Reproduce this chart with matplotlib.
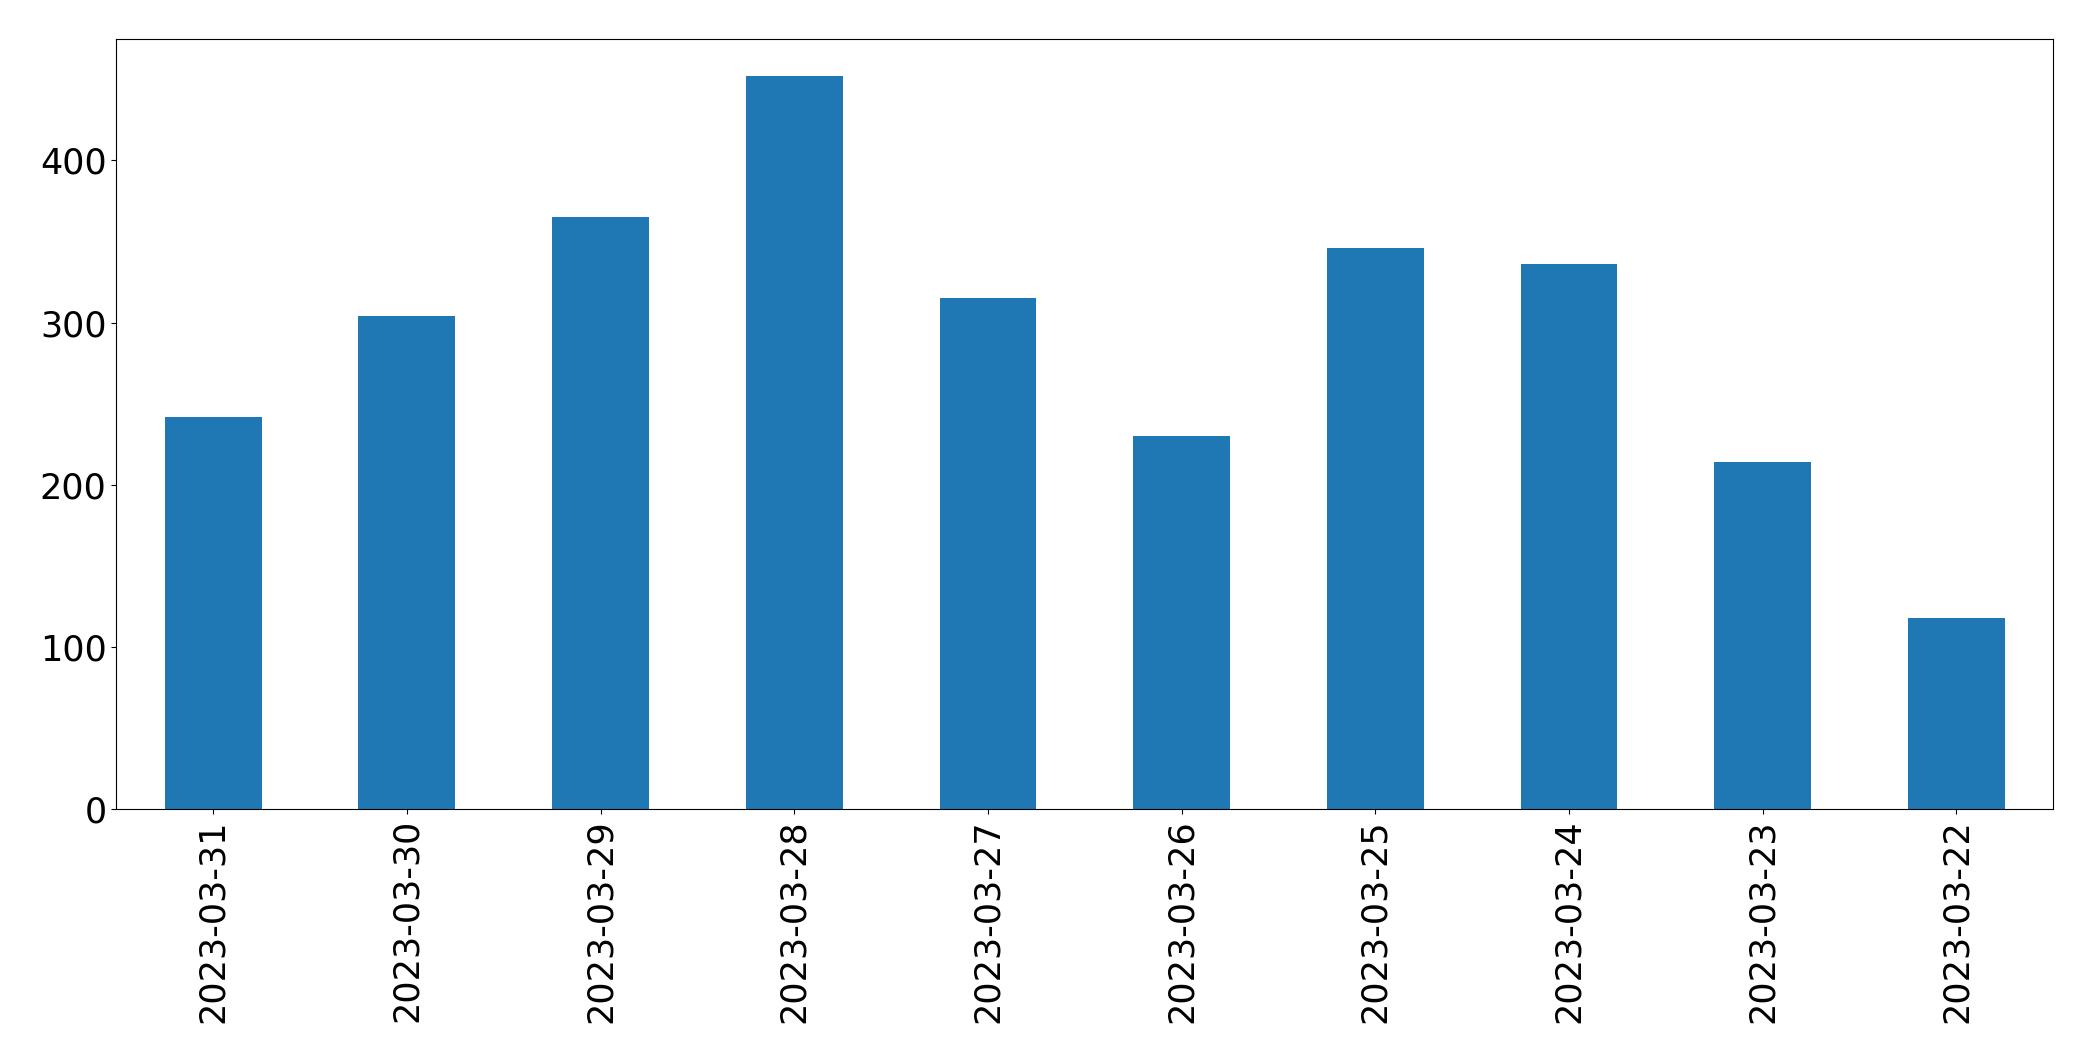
import matplotlib
matplotlib.use("Agg")
import matplotlib.pyplot as plt
import numpy as np

dates = ["2023-03-31", "2023-03-30", "2023-03-29", "2023-03-28", "2023-03-27",
         "2023-03-26", "2023-03-25", "2023-03-24", "2023-03-23", "2023-03-22"]
counts = [242, 304, 365, 452, 315, 230, 346, 336, 214, 118]

fig = plt.figure(figsize=(20.93, 10.61), dpi=100)
ax = fig.add_axes([0.05557, 0.23723, 0.98103 - 0.05557, 0.96296 - 0.23723])
x = np.arange(len(dates))
ax.bar(x, counts, width=0.5, color="#1f77b4")
ax.set_xlim(-0.5, len(dates) - 0.5)
ax.set_xticks(x)
ax.set_xticklabels(dates, rotation=90)
ax.tick_params(axis="both", labelsize=25.2)
fig.savefig("out.png", dpi=100)
